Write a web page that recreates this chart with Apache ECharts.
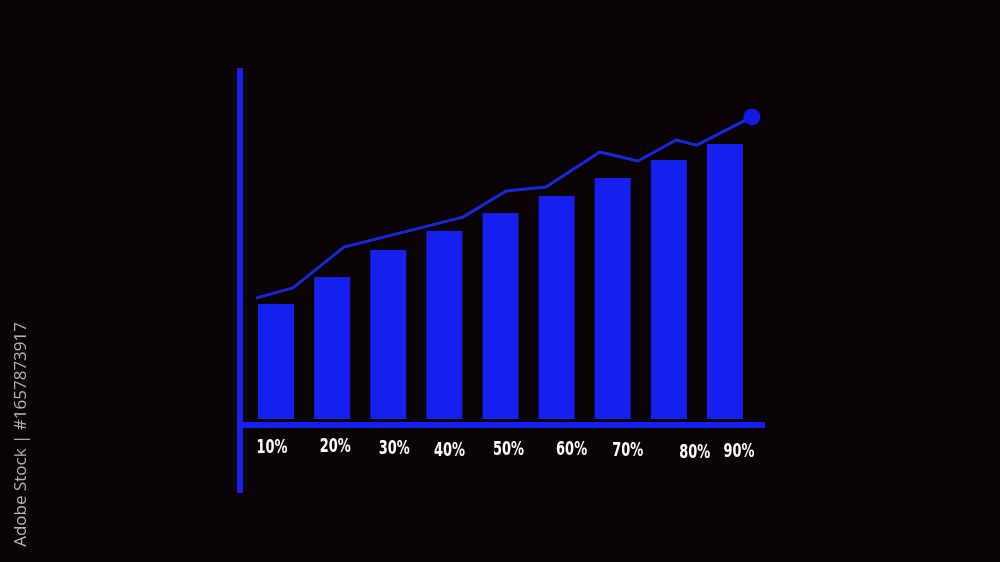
<!DOCTYPE html>
<html>
<head>
<meta charset="utf-8">
<script src="https://cdn.jsdelivr.net/npm/echarts@6/dist/echarts.min.js"></script>
<style>
html,body{margin:0;padding:0;background:#0a0304;}
#chart{width:1000px;height:562px;}
</style>
</head>
<body>
<div id="chart"></div>
<script>
// ---- data ----
const categories = ['10%', '20%', '30%', '40%', '50%', '60%', '70%', '80%', '90%'];
const barValues = [38.3, 47.3, 56.3, 62.7, 68.7, 74.3, 80.3, 86.3, 91.7];
// trend line: [position along category scale, value]
const lineX = [0.64, 1.30, 2.21, 4.33, 5.10, 5.81, 6.77, 7.45, 8.13, 8.50, 9.48];
const lineY = [40.3, 43.7, 57.3, 67.3, 76.0, 77.3, 89.0, 86.0, 93.0, 91.3, 100.7];
const watermark = 'Adobe Stock | #1657873917';

// ---- layout (label hand-placement offsets, px) ----
const labelNudgeX = [-4, 3, 6, 5, 8, 15, 15, 26, 14];
const labelNudgeY = [0, -1, 0.5, 2.5, 1.5, 1.5, 3, 5, 4];

const BLUE = '#1520f0';
const lineData = lineX.map((x, i) => [x, lineY[i]]);
const last = lineData.length - 1;

const chart = echarts.init(document.getElementById('chart'));
chart.setOption({
  backgroundColor: '#0a0304',
  animation: false,
  grid: [
    { left: 248, right: 247, top: 119, bottom: 143 },
    { left: 240, right: 235, top: 68, bottom: 69 }
  ],
  xAxis: [
    {
      type: 'category', gridIndex: 0, data: categories,
      axisLine: { show: false }, axisTick: { show: false }, axisLabel: { show: false }
    },
    { type: 'value', gridIndex: 0, min: 0.5, max: 9.5, show: false },
    {
      type: 'value', gridIndex: 1, min: 0, max: 1,
      axisLine: { show: true, onZero: true, lineStyle: { color: BLUE, width: 6, cap: 'butt' } },
      axisTick: { show: false }, axisLabel: { show: false }, splitLine: { show: false }
    }
  ],
  yAxis: [
    { type: 'value', gridIndex: 0, min: 0, max: 100, show: false },
    {
      type: 'value', gridIndex: 1, min: -68, max: 357,
      axisLine: { show: true, onZero: false, lineStyle: { color: BLUE, width: 6, cap: 'butt' } },
      axisTick: { show: false }, axisLabel: { show: false }, splitLine: { show: false }
    }
  ],
  series: [
    {
      type: 'bar', xAxisIndex: 0, yAxisIndex: 0, data: barValues,
      barWidth: 36, itemStyle: { color: BLUE }
    },
    {
      type: 'line', xAxisIndex: 1, yAxisIndex: 0, data: lineData, clip: false,
      lineStyle: { color: '#1a28dc', width: 3 },
      symbol: 'circle', showSymbol: true,
      symbolSize: (v, p) => p.dataIndex === last ? 17 : 0,
      itemStyle: { color: '#1218e6' },
      z: 3
    },
    {
      // category labels, condensed like the reference's display font
      type: 'custom', xAxisIndex: 0, yAxisIndex: 0,
      data: categories.map((c, i) => [i, 0]),
      renderItem: function (params, api) {
        const i = api.value(0);
        const p = api.coord([i, 0]);
        return {
          type: 'text',
          x: p[0] + labelNudgeX[i],
          y: p[1] + 29 + labelNudgeY[i],
          scaleX: 0.72, scaleY: 1,
          style: {
            text: categories[i], fill: '#ffffff',
            font: 'bold 20px "DejaVu Sans Condensed","DejaVu Sans",sans-serif',
            align: 'center', verticalAlign: 'middle'
          }
        };
      },
      silent: true
    }
  ],
  graphic: [
    {
      type: 'text', left: 13, top: 322, rotation: Math.PI / 2, originX: 0, originY: 0,
      style: {
        text: watermark, fill: '#b8b4b4', fontSize: 17,
        fontFamily: '"Open Sans","Noto Sans",sans-serif'
      }
    }
  ]
});
</script>
</body>
</html>
